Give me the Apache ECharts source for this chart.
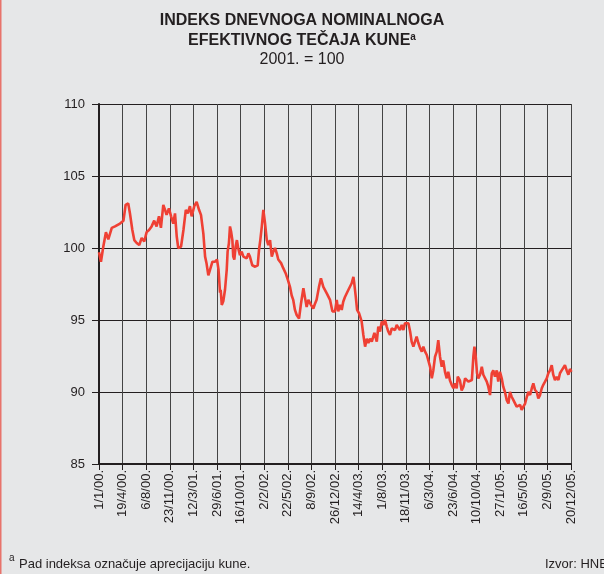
<!DOCTYPE html>
<html><head><meta charset="utf-8">
<script src="https://cdn.jsdelivr.net/npm/echarts@6/dist/echarts.min.js"></script>
<style>html,body{margin:0;padding:0;background:#e6e7e8;}#c{width:604px;height:574px;}</style>
</head><body><div id="c"></div>
<script>
// days since 1 Jan 2000
const dayOffsets = [0,9,20,32,43,59,74,97,113,123,135,143,154,163,174,186,197,209,220,231,243,255,266,277,286,297,305,312,323,333,343,351,359,366,379,390,401,410,420,428,440,451,462,471,482,490,497,505,513,524,536,545,552,
559,562,567,574,582,590,594,600,605,610,616,620,625,631,637,643,651,659,667,674,682,690,697,708,721,733,739,745,752,759,767,775,782,790,798,805,813,821,828,841,851,862,872,882,890,897,905,913,924,933,944,952,959,967,979,990,998,1005,1016,1025,1036,1052,1067,1078,1090,
1098,1105,1113,1121,1128,1136,1144,1152,1160,1167,1175,1179,1186,1192,1201,1213,1221,1229,1237,1244,1252,1260,1272,1283,1290,1298,1306,1313,1321,1329,1336,1344,1352,1359,1367,1375,1382,1390,1398,1406,1413,1421,1429,1437,1444,1452,1460,1467,1475,1483,1491,1498,1506,1514,1521,1529,1537,1544,1552,1560,1567,1575,1583,1590,1598,1606,1613,1621,1629,1637,1644,1652,1657,
1667,1675,1683,1691,1698,1706,1714,1722,1729,1734,1740,1746,1752,1760,1768,1775,1783,1791,1798,1806,1814,1821,1829,1837,1844,1852,1860,1867,1875,1883,1891,1898,1906,1914,1922,1929,1937,1945,1952,1960,1968,1976,1983,1991,1999,2006,2014,2022,2029,2037,2045,2052,2060,2068,2075,2083,2091,2098,2106,2114,2122,2129,2137,2145,2152,2160,2168,2175,2182];
const indexValues = [99.7,99.05,100.1,101.1,100.6,101.4,101.5,101.7,101.9,103.0,103.1,102.4,101.25,100.55,100.35,100.2,100.7,100.45,101.1,101.25,101.5,101.9,101.5,102.2,101.4,103.0,102.65,102.3,102.75,102.2,101.7,102.4,100.8,100.0,100.1,101.25,102.65,102.4,102.9,102.2,102.9,103.2,102.65,102.3,101.0,99.4,98.9,98.1,98.5,99.05,99.05,99.2,98.5,
96.9,97.1,96.05,96.3,97.1,98.5,99.75,100.33,101.5,101.15,100.55,99.4,99.2,100.1,100.55,99.98,99.5,99.75,99.4,99.5,99.28,99.63,99.4,98.8,98.7,98.8,99.86,100.55,101.5,102.65,101.7,100.55,100.2,100.55,99.4,99.75,100.0,99.63,99.2,98.95,98.6,98.25,97.8,97.3,96.7,96.4,95.7,95.35,95.1,96.15,97.2,96.5,95.9,96.4,96.05,95.8,96.15,96.4,97.3,97.9,97.3,96.85,96.4,95.6,95.6,
96.4,95.6,96.05,95.7,96.27,96.6,96.5,97.1,96.97,97.55,98.0,97.55,96.6,95.7,95.47,94.9,93.96,93.15,93.7,93.4,93.7,93.5,94.1,93.5,94.54,94.2,94.9,94.65,95.0,94.54,94.2,93.96,94.42,94.54,94.3,94.65,94.54,94.3,94.65,94.3,94.77,94.9,94.77,94.2,93.5,93.15,93.26,93.84,93.4,93.05,92.8,93.15,92.8,92.57,92.2,91.76,90.95,91.5,92.45,92.8,93.6,92.45,91.76,92.2,91.4,90.95,91.4,90.8,90.5,90.26,90.6,90.26,91.06,
90.8,90.1,90.37,90.95,91.06,90.72,90.6,90.83,92.45,93.15,92.45,91.3,90.95,91.2,91.76,91.2,91.3,90.72,90.37,89.79,91.3,91.5,91.06,91.5,90.72,91.4,90.95,90.37,90.0,89.44,89.2,90.0,89.67,89.44,89.56,88.98,88.87,89.1,88.75,88.98,89.2,89.67,90.0,89.79,90.26,90.6,90.14,90.0,89.56,89.79,90.26,90.5,90.72,90.95,91.3,91.5,91.86,91.2,90.83,91.06,90.83,91.3,91.5,91.6,91.86,91.5,91.2,91.6,91.4];
const yTicks = [85, 90, 95, 100, 105, 110];
const tickStepDays = 109;
const titleLines = ['INDEKS DNEVNOGA NOMINALNOGA', 'EFEKTIVNOG TEČAJA KUNE', '2001. = 100'];
const footnote = 'Pad indeksa označuje aprecijaciju kune.';
const sourceText = 'Izvor: HNB';

const FONT = '"Liberation Sans", Arial, sans-serif';
const seriesData = dayOffsets.map((d, i) => [d, indexValues[i]]);
const base = Date.UTC(2000, 0, 1);
function fmtDay(v) {
  const dt = new Date(base + v * 86400000);
  const yy = String(dt.getUTCFullYear() % 100).padStart(2, '0');
  return dt.getUTCDate() + '/' + (dt.getUTCMonth() + 1) + '/' + yy + '.';
}
const chart = echarts.init(document.getElementById('c'), null, {renderer: 'canvas'});
chart.setOption({
  backgroundColor: '#e6e7e8',
  animation: false,
  grid: {left: 99, right: 33, top: 104, bottom: 110, containLabel: false},
  xAxis: {
    type: 'value', min: 0, max: 2180, interval: tickStepDays,
    axisLine: {show: true, lineStyle: {color: '#231f20', width: 2}},
    axisTick: {show: true, length: 6, lineStyle: {color: '#231f20', width: 1}},
    axisLabel: {rotate: 90, fontSize: 13, color: '#231f20', fontFamily: FONT, margin: 6, formatter: fmtDay},
    splitLine: {show: true, lineStyle: {color: '#444', width: 1}}
  },
  yAxis: {
    type: 'value', min: yTicks[0], max: yTicks[yTicks.length - 1], interval: 5,
    axisLine: {show: true, lineStyle: {color: '#231f20', width: 2}},
    axisTick: {show: true, length: 7, lineStyle: {color: '#231f20', width: 1}},
    axisLabel: {fontSize: 13, color: '#231f20', fontFamily: FONT, margin: 14},
    splitLine: {show: true, lineStyle: {color: '#231f20', width: 1}}
  },
  series: [{
    type: 'line', data: seriesData, showSymbol: false, symbol: 'none',
    lineStyle: {color: '#ef4034', width: 2.6}, z: 5
  }],
  graphic: [
    {type: 'rect', left: 0, top: 0, shape: {width: 1.5, height: 574}, style: {fill: '#e8736b'}},
    {type: 'text', left: 'center', top: 13, style: {text: titleLines[0], font: 'bold 16px ' + FONT, fill: '#231f20'}},
    {type: 'text', left: 'center', top: 32, style: {text: titleLines[1] + '{s|a}', font: 'bold 16px ' + FONT, fill: '#231f20',
      rich: {s: {fontSize: 10, fontWeight: 'bold', verticalAlign: 'top', padding: [0,0,7,0]}}}},
    {type: 'text', left: 'center', top: 52, style: {text: titleLines[2], font: '16px ' + FONT, fill: '#231f20'}},
    {type: 'text', left: 9, top: 553, style: {text: 'a', font: '10px ' + FONT, fill: '#231f20'}},
    {type: 'text', left: 19, top: 558, style: {text: footnote, font: '13px ' + FONT, fill: '#231f20'}},
    {type: 'text', left: 545, top: 558, style: {text: sourceText, font: '13px ' + FONT, fill: '#231f20'}}
  ]
});
</script></body></html>
